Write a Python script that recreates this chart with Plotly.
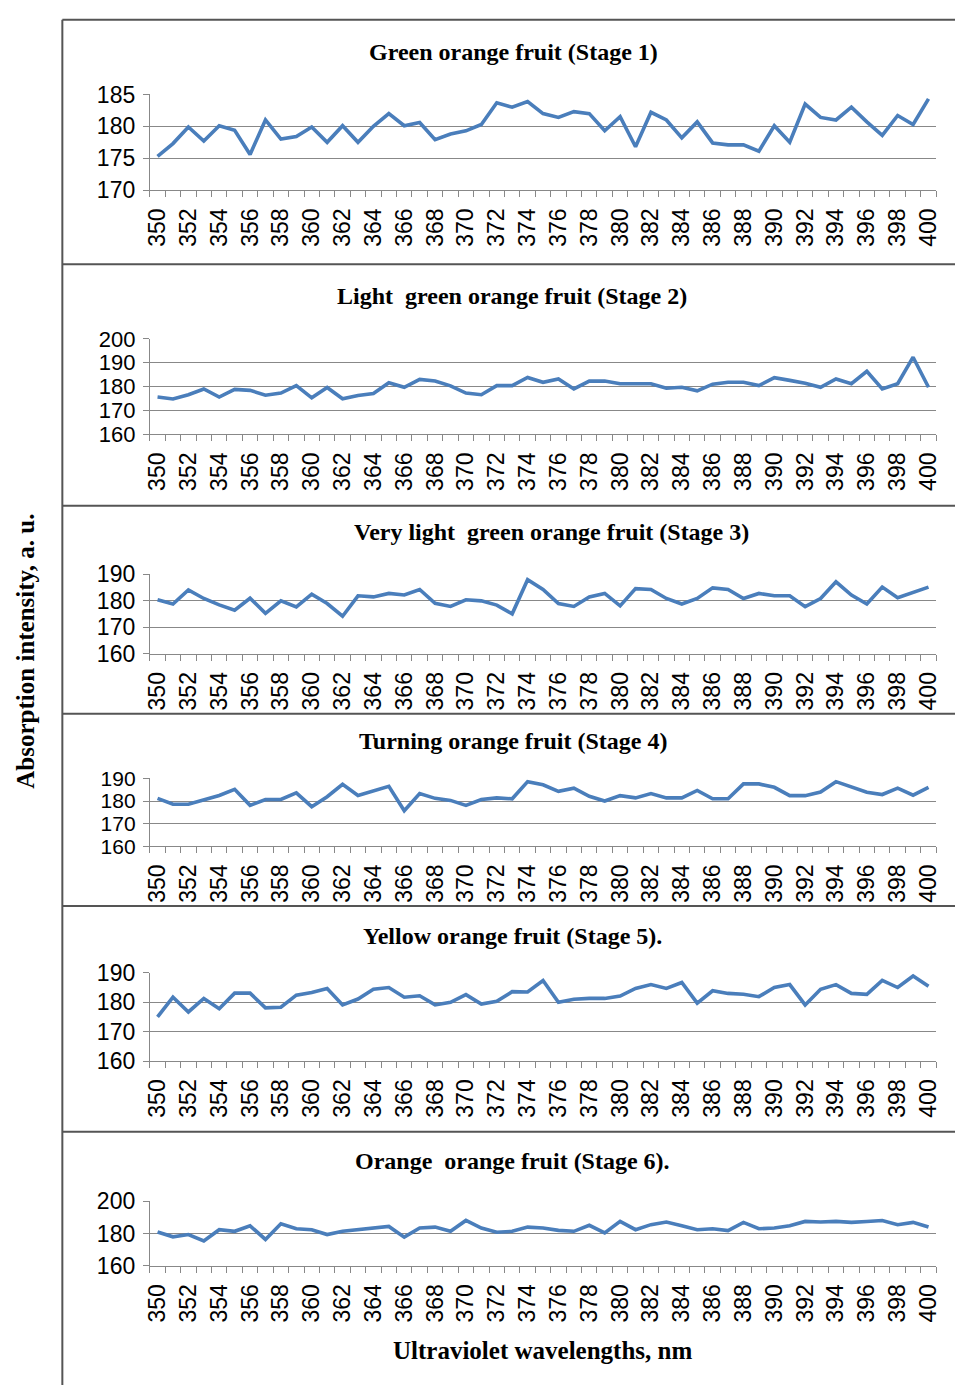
import plotly.graph_objects as go

wavelengths = list(range(350, 401))

titles = [
    "Green orange fruit (Stage 1)",
    "Light\u00a0 green orange fruit (Stage 2)",
    "Very light\u00a0 green orange fruit (Stage 3)",
    "Turning orange fruit (Stage 4)",
    "Yellow orange fruit (Stage 5).",
    "Orange\u00a0 orange fruit (Stage 6).",
]

stage1 = [175.3, 177.3, 179.9, 177.7, 180.1, 179.4, 175.6, 181.0, 178.0, 178.4,
          179.9, 177.5, 180.1, 177.5, 180.0, 182.0, 180.1, 180.6, 177.9, 178.8,
          179.3, 180.3, 183.7, 183.0, 183.9, 182.0, 181.4, 182.3, 182.0, 179.3,
          181.5, 176.8, 182.2, 181.0, 178.2, 180.7, 177.4, 177.1, 177.1, 176.1,
          180.1, 177.5, 183.5, 181.4, 181.0, 183.0, 180.7, 178.6, 181.7, 180.3,
          184.3]
stage2 = [175.6, 174.8, 176.6, 179.0, 175.6, 178.8, 178.4, 176.4, 177.3, 180.4,
          175.3, 179.6, 174.9, 176.3, 177.1, 181.6, 179.7, 183.0, 182.3, 180.3,
          177.3, 176.6, 180.4, 180.4, 183.8, 181.8, 183.2, 179.0, 182.3, 182.3,
          181.2, 181.2, 181.2, 179.3, 179.7, 178.2, 181.0, 181.8, 181.8, 180.4,
          183.7, 182.6, 181.4, 179.7, 183.2, 181.2, 186.4, 179.0, 181.2, 192.3,
          179.7]
stage3 = [180.4, 178.8, 184.1, 180.9, 178.5, 176.5, 181.0, 175.3, 180.0, 177.7,
          182.5, 179.0, 174.2, 181.9, 181.5, 182.8, 182.2, 184.3, 179.1, 177.9,
          180.4, 180.0, 178.4, 175.1, 188.0, 184.3, 179.0, 177.9, 181.5, 182.8,
          178.1, 184.6, 184.3, 180.9, 178.8, 180.9, 184.9, 184.3, 180.9, 182.8,
          181.9, 181.9, 177.8, 180.9, 187.2, 182.2, 178.8, 185.2, 181.2, 183.1,
          185.2]
stage4 = [181.2, 178.6, 178.6, 180.7, 182.5, 185.2, 178.1, 180.7, 180.7, 183.6,
          177.5, 181.9, 187.4, 182.5, 184.3, 186.5, 175.7, 183.3, 181.2, 180.3,
          178.1, 180.7, 181.4, 181.0, 188.6, 187.2, 184.3, 185.7, 182.1, 180.0,
          182.4, 181.4, 183.3, 181.4, 181.4, 184.7, 181.0, 181.0, 187.6, 187.6,
          186.1, 182.4, 182.4, 184.0, 188.6, 186.1, 183.9, 182.9, 185.7, 182.6,
          186.1]
stage5 = [175.0, 181.7, 176.7, 181.3, 177.8, 183.1, 183.1, 178.1, 178.3, 182.4,
          183.3, 184.7, 179.1, 181.1, 184.4, 185.0, 181.7, 182.2, 179.1, 180.0,
          182.6, 179.4, 180.3, 183.6, 183.5, 187.4, 180.0, 181.0, 181.3, 181.3,
          182.1, 184.7, 186.0, 184.7, 186.7, 179.7, 183.9, 183.0, 182.7, 181.9,
          185.0, 186.0, 179.1, 184.4, 186.0, 183.0, 182.7, 187.4, 185.0, 188.9,
          185.4]
stage6 = [181.0, 178.0, 179.4, 175.4, 182.4, 181.4, 184.8, 176.4, 186.1, 183.0,
          182.4, 179.4, 181.4, 182.4, 183.0, 184.4, 177.8, 183.4, 184.0, 181.4,
          188.1, 183.4, 180.8, 181.4, 184.0, 183.4, 182.0, 181.4, 185.1, 180.4,
          187.5, 182.4, 185.5, 187.1, 184.8, 182.4, 183.0, 181.8, 186.9, 183.0,
          183.4, 184.8, 187.5, 187.1, 187.5, 186.9, 187.5, 188.1, 185.5, 186.9,
          184.0]

series = [stage1, stage2, stage3, stage4, stage5, stage6]
y_ranges = [(170, 185), (160, 200), (160, 190), (160, 190), (160, 190), (160, 200)]
y_dticks = [5, 10, 10, 10, 10, 20]
y_fontsizes = [23, 22, 23, 21, 23, 23]

W, H = 960, 1398
# plot area pixel positions (top, bottom)
plot_px = [(83, 180.5), (332, 429.3), (572, 653), (780, 849), (978, 1068), (1210.7, 1276.7)]
title_px = [40, 288, 529, 742, 940, 1170]
title_x = [513, 512, 552, 513, 512, 512]
frame_px = [7, 256, 502, 714, 910, 1140]
x0_px, x1_px = 145.5, 941

LINE = "#4A7EBB"
GRID = "#888888"

fig = go.Figure()
for i, (vals, rng, dt) in enumerate(zip(series, y_ranges, y_dticks)):
    n = i + 1
    xa = "x" if n == 1 else f"x{n}"
    ya = "y" if n == 1 else f"y{n}"
    fig.add_trace(go.Scatter(x=wavelengths, y=vals, mode="lines",
                             line=dict(color=LINE, width=3.6),
                             xaxis=xa, yaxis=ya, showlegend=False,
                             hoverinfo="skip"))
    top, bot = plot_px[i]
    xkey = "xaxis" if n == 1 else f"xaxis{n}"
    ykey = "yaxis" if n == 1 else f"yaxis{n}"
    fig.update_layout({
        xkey: dict(domain=[x0_px / W, x1_px / W], anchor=ya,
                   range=[349.5, 400.5], tick0=350, dtick=2,
                   ticks="", showgrid=False, zeroline=False,
                   showline=True, linecolor=GRID, linewidth=1,
                   tickangle=-90, ticklabelstandoff=8,
                   tickfont=dict(family="Liberation Sans", size=23, color="#000"),
                   minor=dict(ticks="outside", tick0=349.5, dtick=1, ticklen=6,
                              tickcolor=GRID, showgrid=False)),
        ykey: dict(domain=[1 - bot / H, 1 - top / H], anchor=xa,
                   range=list(rng), dtick=dt, tick0=rng[0],
                   ticks="outside", ticklen=6, tickcolor=GRID,
                   showgrid=True, gridcolor=GRID, gridwidth=1,
                   zeroline=False, showline=True, linecolor=GRID, linewidth=1,
                   ticklabelstandoff=3,
                   tickfont=dict(family="Liberation Sans", size=y_fontsizes[i],
                                 color="#000")),
    })
    fig.add_annotation(text="<b>" + titles[i] + "</b>", xref="paper", yref="paper",
                       x=title_x[i] / W, y=1 - title_px[i] / H, showarrow=False,
                       xanchor="center", yanchor="middle",
                       font=dict(family="Liberation Serif", size=24, color="#000"))

# frame lines
shapes = [dict(type="line", xref="paper", yref="paper", x0=57 / W, x1=57 / W,
               y0=0, y1=1 - 7 / H, line=dict(color="#555555", width=2))]
for fy in frame_px:
    shapes.append(dict(type="line", xref="paper", yref="paper", x0=57 / W, x1=1,
                       y0=1 - fy / H, y1=1 - fy / H, line=dict(color="#555555", width=2)))
fig.update_layout(shapes=shapes)

fig.add_annotation(text="<b>Absorption intensity, a. u.</b>", xref="paper", yref="paper",
                   x=20 / W, y=1 - 650 / H, showarrow=False, textangle=-90,
                   xanchor="center", yanchor="middle",
                   font=dict(family="Liberation Serif", size=25, color="#000"))
fig.add_annotation(text="<b>Ultraviolet wavelengths, nm</b>", xref="paper", yref="paper",
                   x=543 / W, y=1 - 1363 / H, showarrow=False,
                   xanchor="center", yanchor="middle",
                   font=dict(family="Liberation Serif", size=25, color="#000"))

fig.update_layout(width=W, height=H, margin=dict(l=0, r=0, t=0, b=0),
                  paper_bgcolor="white", plot_bgcolor="white", hovermode=False)
fig.write_html(
    "out.html",
    config={"displayModeBar": False, "staticPlot": True},
    post_script="document.body.style.margin='0';"
                "document.body.style.overflow='hidden';"
                "document.documentElement.style.overflow='hidden';",
)
